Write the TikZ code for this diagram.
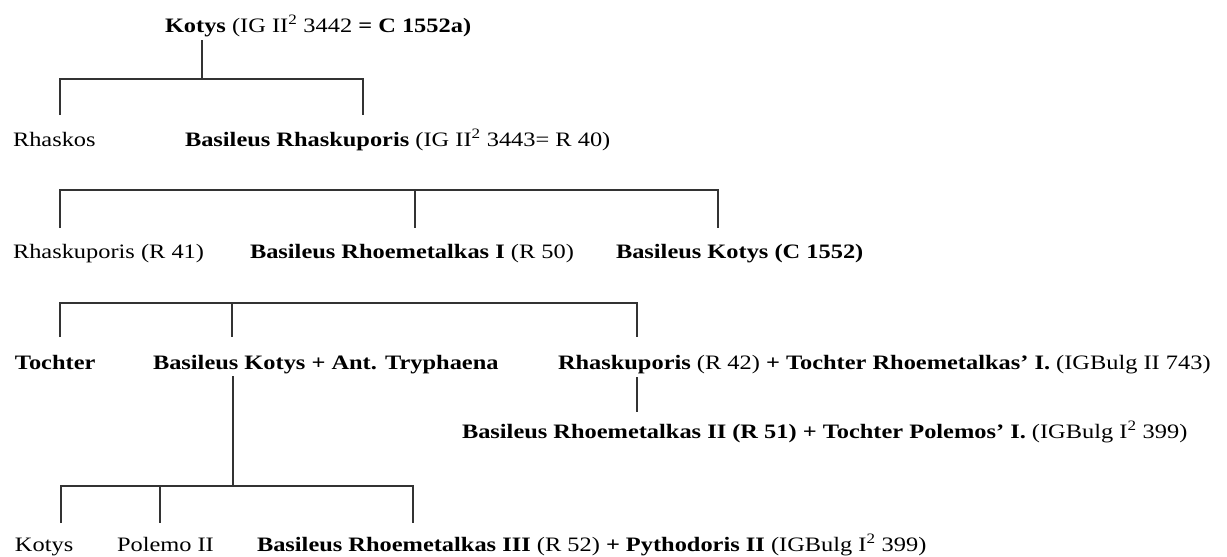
\documentclass[tikz,border=0pt]{standalone}
\usepackage{fontspec}
\setmainfont{Liberation Serif}[FakeStretch=1.19]
\tikzset{
  lbl/.style={anchor=base west, inner sep=0pt, outer sep=0pt, font=\fontsize{20.5}{24}\selectfont},
  tree/.style={line width=1.5pt, draw=black!80}
}
\begin{document}
\begin{tikzpicture}[x=1pt,y=-1pt]
\useasboundingbox (0,0) rectangle (1227,557);
% texts
\node[lbl] (t1) at (165,32) {\textbf{Kotys} (IG II\textsuperscript{2} 3442 \textbf{= C 1552a)}};
\node[lbl] (n2a) at (13,146) {Rhaskos};
\node[lbl] (n2b) at (185,146) {\textbf{Basileus Rhaskuporis} (IG II\textsuperscript{2} 3443= R 40)};
\node[lbl] (n3a) at (13,258) {Rhaskuporis (R 41)};
\node[lbl] (n3b) at (250,258) {\textbf{Basileus Rhoemetalkas I} (R 50)};
\node[lbl] (n3c) at (616,258) {\textbf{Basileus Kotys (C 1552)}};
\node[lbl] (n4a) at (15,369) {\textbf{Tochter}};
\node[lbl] (n4b) at (153,369) {\textbf{Basileus Kotys + Ant. Tryphaena}};
\node[lbl] (n4c) at (558,369) {\textbf{Rhaskuporis} (R 42) \textbf{+ Tochter Rhoemetalkas’ I.} (IGBulg II 743)};
\node[lbl] (n5) at (462,438) {\textbf{Basileus Rhoemetalkas II (R 51) + Tochter Polemos’ I.} (IGBulg I\textsuperscript{2} 399)};
\node[lbl] (n6a) at (15,551) {Kotys};
\node[lbl] (n6b) at (117,551) {Polemo II};
\node[lbl] (n6c) at (257,551) {\textbf{Basileus Rhoemetalkas III} (R 52) \textbf{+ Pythodoris II} (IGBulg I\textsuperscript{2} 399)};
% junctions
\coordinate (j1) at (202,79);
\coordinate (b1L) at (60,79);
\coordinate (b1R) at (363,79);
\coordinate (b2L) at (60,190);
\coordinate (b2M) at (415,190);
\coordinate (b2R) at (718,190);
\coordinate (b3L) at (60,303);
\coordinate (b3M) at (232,303);
\coordinate (b3R) at (637,303);
\coordinate (c45) at (637,377);
\coordinate (j5) at (233,486);
\coordinate (b5L) at (61,486);
\coordinate (b5M) at (160,486);
\coordinate (b5R) at (413,486);
% generation 1 -> 2
\draw[tree] ([yshift=-8pt]t1.base -| j1) -- (j1);
\draw[tree] ([yshift=31pt]b1L |- n2a.base) -- (b1L) -- (b1R) -- ([yshift=31pt]b1R |- n2b.base);
% generation 2 -> 3
\draw[tree] ([yshift=30pt]b2L |- n3a.base) -- (b2L) -- (b2R) -- ([yshift=30pt]b2R |- n3c.base);
\draw[tree] (b2M) -- ([yshift=30pt]b2M |- n3b.base);
% generation 3 -> 4
\draw[tree] ([yshift=32pt]b3L |- n4a.base) -- (b3L) -- (b3R) -- ([yshift=32pt]b3R |- n4c.base);
\draw[tree] (b3M) -- ([yshift=32pt]b3M |- n4b.base);
% Rhaskuporis -> Rhoemetalkas II
\draw[tree] (c45 |- c45) -- ([yshift=26pt]c45 |- n5.base);
% Kotys + Tryphaena -> children
\draw[tree] ([yshift=-7pt]n4b.base -| j5) -- (j5);
\draw[tree] ([yshift=28pt]b5L |- n6a.base) -- (b5L) -- (b5R) -- ([yshift=28pt]b5R |- n6c.base);
\draw[tree] (b5M) -- ([yshift=28pt]b5M |- n6b.base);
\end{tikzpicture}
\end{document}
